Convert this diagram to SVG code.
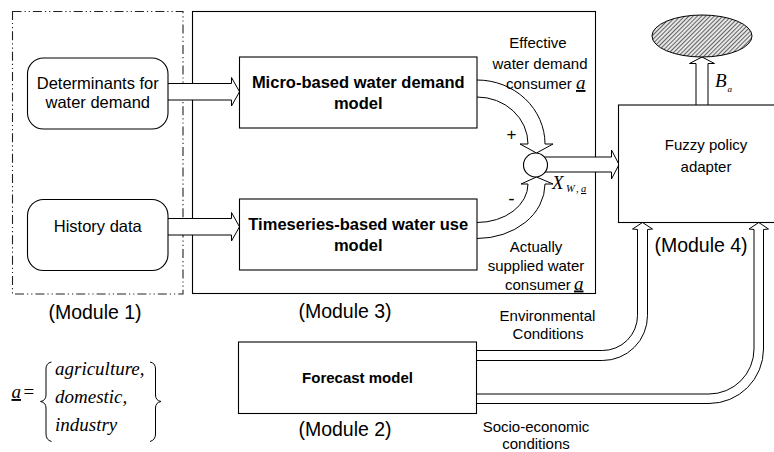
<svg xmlns="http://www.w3.org/2000/svg" width="774" height="452" viewBox="0 0 774 452">
  <style>
    .box { fill: #ffffff; stroke: #000000; stroke-width: 1.1; }
    .frame { fill: none; stroke: #000000; stroke-width: 1.1; }
    .dashframe { fill: none; stroke: #222222; stroke-width: 1.1; stroke-dasharray: 9 3 1.2 3 1.2 3; }
    .fat { fill: #ffffff; stroke: #000000; stroke-width: 1; stroke-linejoin: miter; }
    .line { fill: none; stroke: #000000; stroke-width: 1; }
    .t { font-family: "Liberation Sans", Arial, sans-serif; fill: #000000; }
    .lbl { font-size: 15px; text-anchor: middle; }
    .node { font-size: 16.5px; text-anchor: middle; }
    .bold { font-size: 16.5px; font-weight: bold; text-anchor: middle; }
    .mod { font-size: 19.5px; text-anchor: middle; }
    .m { font-family: "Liberation Serif", "Times New Roman", serif; font-style: italic; fill: #000000; }
    .ul { text-decoration: underline; }
  </style>
  <defs>
    <pattern id="hatch" patternUnits="userSpaceOnUse" width="3" height="3" patternTransform="rotate(45)">
      <rect width="3" height="3" fill="#e6e6e6"/>
      <line x1="0.5" y1="0" x2="0.5" y2="3" stroke="#555555" stroke-width="0.9"/>
    </pattern>
  </defs>

  <!-- module frames -->
  <rect id="module1-frame" class="dashframe" x="12.5" y="11.5" width="170.5" height="282.5"/>
  <rect id="module3-frame" class="frame" x="192.5" y="11.5" width="403" height="282"/>

  <!-- connectors -->
  <g id="connectors">
    <!-- inputs into module 3 -->
    <path class="fat" d="M168,83.5 H231.5 V77.5 L239.5,91.75 L231.5,106 V100 H168"/>
    <path class="fat" d="M168,218.5 H231.5 V212.5 L239.5,226.75 L231.5,241 V235 H168"/>
    <!-- demand into summing junction -->
    <path class="fat" d="M477,80 A68,64 0 0 1 545,144 L553,144 L536.5,153 L520,144 L528,144 A51,47 0 0 0 477,97"/>
    <!-- supply into summing junction -->
    <path class="fat" d="M477,222.5 A51,38.5 0 0 0 528,184 L521,184 L536.5,177 L553,184 L545,184 A68,54.5 0 0 1 477,238.5"/>
    <!-- junction to fuzzy adapter -->
    <path class="fat" d="M540,157 H611.5 V150 L619,164.5 L611.5,179 V172 H540"/>
    <!-- adapter output -->
    <path class="fat" d="M696,105 V63.5 H689.5 L702,57 L714.5,63.5 H708 V105"/>
    <!-- environmental conditions -->
    <path class="fat" d="M476.5,350.5 H602.5 A35,35 0 0 0 637.5,315.5 V229.5 L632.5,229 L642.5,222.5 L652.5,229 L647.5,229.5 V315.5 A45,45 0 0 1 602.5,360.5 H476.5"/>
    <!-- socio-economic conditions -->
    <path class="fat" d="M476.5,394 H709 A45,45 0 0 0 754,349 V229.5 L749,229 L758.75,222.5 L768.5,229 L763.5,229.5 V349 A54.5,54.5 0 0 1 709,403.5 H476.5"/>
  </g>

  <!-- module 1 inputs -->
  <g id="determinants">
    <rect class="box" x="27.5" y="58" width="140.5" height="71" rx="16" ry="16"/>
    <text class="t node" x="97.75" y="89">Determinants for</text>
    <text class="t node" x="97.75" y="107.5">water demand</text>
  </g>
  <g id="history-data">
    <rect class="box" x="27.5" y="199.5" width="140.5" height="71" rx="16" ry="16"/>
    <text class="t node" x="97.75" y="232">History data</text>
  </g>
  <text class="t mod" x="95" y="319">(Module 1)</text>

  <!-- module 3 models -->
  <g id="micro-model">
    <rect class="box" x="239.5" y="57" width="237.5" height="71"/>
    <text class="t bold" x="358.25" y="88">Micro-based water demand</text>
    <text class="t bold" x="358.25" y="108.5">model</text>
  </g>
  <g id="timeseries-model">
    <rect class="box" x="239.5" y="199" width="237.5" height="71"/>
    <text class="t bold" x="358.25" y="230">Timeseries-based water use</text>
    <text class="t bold" x="358.25" y="250.5">model</text>
  </g>

  <g id="junction">
    <circle class="box" cx="535.5" cy="165" r="12"/>
  </g>
  <text class="t" x="511.5" y="140" font-size="17" text-anchor="middle">+</text>
  <text class="t" x="511.5" y="205" font-size="19" text-anchor="middle">-</text>
  <text class="m" x="552" y="188.5" font-size="19">X</text>
  <text class="m" x="566" y="192" font-size="10.5">W</text>
  <text class="m" x="576" y="192" font-size="10.5">,</text>
  <text class="m ul" x="581" y="192" font-size="10.5">a</text>

  <text class="t lbl" x="538" y="48">Effective</text>
  <text class="t lbl" x="540" y="69">water demand</text>
  <text class="t" x="506" y="89" font-size="15">consumer</text>
  <text class="m ul" x="576" y="89" font-size="19">a</text>

  <text class="t lbl" x="536" y="252">Actually</text>
  <text class="t lbl" x="536" y="271">supplied water</text>
  <text class="t" x="505" y="289.5" font-size="15">consumer</text>
  <text class="m ul" x="574" y="289.5" font-size="19">a</text>
  <text class="t mod" x="345" y="318">(Module 3)</text>

  <!-- module 4 -->
  <g id="fuzzy-adapter">
    <rect class="box" x="618.5" y="105" width="165" height="117.5"/>
    <text class="t lbl" x="706" y="150">Fuzzy policy</text>
    <text class="t lbl" x="706" y="172">adapter</text>
  </g>
  <text class="t mod" x="701" y="252">(Module 4)</text>
  <g id="policy-output">
    <ellipse cx="702" cy="36" rx="50" ry="21" fill="url(#hatch)" stroke="#000000" stroke-width="1"/>
  </g>
  <text class="m" x="715" y="87" font-size="19">B</text>
  <text class="m" x="727.5" y="92" font-size="9">a</text>

  <!-- module 2 -->
  <g id="forecast-model">
    <rect class="box" x="238.5" y="342" width="238" height="71.5"/>
    <text class="t bold" x="357.5" y="383" style="font-size:15px">Forecast model</text>
  </g>
  <text class="t mod" x="345" y="436">(Module 2)</text>
  <text class="t lbl" x="547.5" y="321">Environmental</text>
  <text class="t lbl" x="548" y="339">Conditions</text>
  <text class="t lbl" x="536" y="432">Socio-economic</text>
  <text class="t lbl" x="536" y="449">conditions</text>

  <!-- consumer set definition -->
  <g id="consumer-set">
    <text class="m ul" x="11.5" y="398" font-size="19">a</text>
    <text x="23.5" y="398" font-size="19" font-family="Liberation Serif, serif">=</text>
    <path class="line" stroke-width="1.3" d="M51.5,362 Q46,363 46,369 V395 Q46,400.5 40.5,401.5 Q46,402.5 46,408 V434 Q46,440 51.5,441.5"/>
    <path class="line" stroke-width="1.3" d="M150,362 Q155.5,363 155.5,369 V395 Q155.5,400.5 161,401.5 Q155.5,402.5 155.5,408 V434 Q155.5,440 150,441.5"/>
    <text class="m" x="55" y="375" font-size="19">agriculture,</text>
    <text class="m" x="55" y="403" font-size="19">domestic,</text>
    <text class="m" x="55" y="430.5" font-size="19">industry</text>
  </g>
</svg>
